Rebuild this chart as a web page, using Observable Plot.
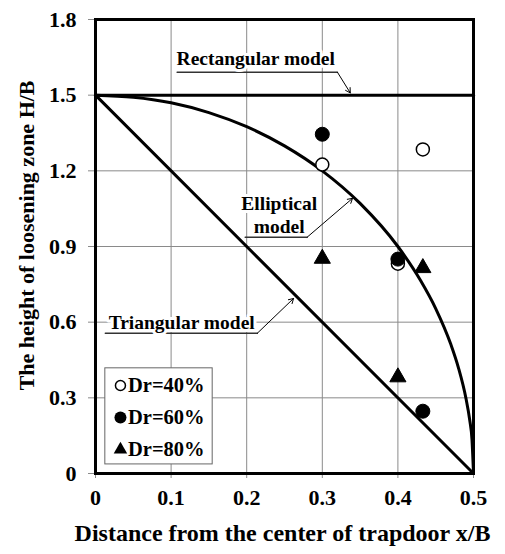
<!DOCTYPE html>
<html><head><meta charset="utf-8">
<script src="https://cdn.jsdelivr.net/npm/d3@7"></script>
<script src="https://cdn.jsdelivr.net/npm/@observablehq/plot@0.6"></script>
<style>
html,body{margin:0;padding:0;background:#fff;}
#chart svg{display:block;}
</style></head><body><div id="chart"></div>
<script>
// ---- data ----
const xTicks = [0, 0.1, 0.2, 0.3, 0.4, 0.5];
const yTicks = [0, 0.3, 0.6, 0.9, 1.2, 1.5, 1.8];
const seriesNames = ["Dr=40%", "Dr=60%", "Dr=80%"];
const testX = [0.3, 0.4, 0.433];
const dr40 = [1.225, 0.832, 1.285];
const dr60 = [1.345, 0.850, 0.247];
const dr80 = [0.852, 0.382, 0.815];
const rectX = [0, 0.5];
const rectY = [1.5, 1.5];
const triX = [0, 0.5];
const triY = [1.5, 0];
const ellX = [0, 0.05, 0.1, 0.15, 0.2, 0.25, 0.3, 0.35, 0.4, 0.43, 0.45, 0.47, 0.48, 0.49, 0.495, 0.498, 0.5];
const ellY = [1.5, 1.492, 1.47, 1.431, 1.375, 1.299, 1.2, 1.071, 0.9, 0.765, 0.654, 0.512, 0.42, 0.298, 0.212, 0.134, 0];
const modelNames = ["Rectangular model", "Elliptical\nmodel", "Triangular model"];
const xTitle = "Distance from the center of trapdoor x/B";
const yTitle = "The height of loosening zone H/B";

// ---- build tables ----
const pts = (xs, ys) => xs.map((x, i) => ({x, y: ys[i]}));
const s40 = pts(testX, dr40), s60 = pts(testX, dr60), s80 = pts(testX, dr80);
const fmt = d => d === 0 ? "0" : d.toFixed(1);
const FONT = "'Liberation Serif','Times New Roman',serif";

// annotation layout (data coordinates)
const notes = [
  {text: modelNames[0], tx: 0.212, ty: 1.650, u1: 0.108, u2: 0.320, uy: 1.591, ax: 0.337, ay: 1.509},
  {text: modelNames[1], tx: 0.243, ty: 1.028, u1: 0.198, u2: 0.280, uy: 0.937, ax: 0.340, ay: 1.091},
  {text: modelNames[2], tx: 0.114, ty: 0.603, u1: 0.013, u2: 0.214, uy: 0.556, ax: 0.262, ay: 0.694}
];
const underlines = notes.flatMap((n, i) => [{i, x: n.u1, y: n.uy}, {i, x: n.u2, y: n.uy}]);

const legendRows = seriesNames.map((name, i) => ({name, i, y: [0.349, 0.222, 0.095][i]}));

const chart = Plot.plot({
  width: 505,
  height: 554,
  marginLeft: 95,
  marginRight: 32,
  marginTop: 19,
  marginBottom: 81,
  style: {fontFamily: FONT, fontWeight: "bold", fontSize: "22px", background: "white", color: "black"},
  x: {domain: [0, 0.5]},
  y: {domain: [0, 1.8]},
  marks: [
    Plot.gridX(xTicks.slice(1, -1), {stroke: "#8a8a8a", strokeOpacity: 1, strokeWidth: 1}),
    Plot.gridY(yTicks.slice(1, -1), {stroke: "#8a8a8a", strokeOpacity: 1, strokeWidth: 1}),
    Plot.axisX(xTicks, {tickSize: 5, tickPadding: 11, tickFormat: fmt, stroke: "#8a8a8a", label: null}),
    Plot.axisY(yTicks, {tickSize: 7, tickPadding: 12, tickFormat: fmt, stroke: "#8a8a8a", label: null}),
    // model lines
    Plot.line(pts(rectX, rectY), {x: "x", y: "y", stroke: "black", strokeWidth: 3}),
    Plot.line(pts(triX, triY), {x: "x", y: "y", stroke: "black", strokeWidth: 3}),
    Plot.line(pts(ellX, ellY), {x: "x", y: "y", stroke: "black", strokeWidth: 3, curve: "monotone-x"}),
    // annotations
    Plot.line(underlines, {x: "x", y: "y", z: "i", stroke: "#333", strokeWidth: 1.5}),
    Plot.arrow(notes, {x1: "u2", y1: "uy", x2: "ax", y2: "ay", stroke: "black", strokeWidth: 1, headLength: 8, bend: 0}),
    Plot.text(notes, {x: "tx", y: "ty", text: "text", fontSize: 19.5, lineHeight: 1.15, fill: "black", stroke: "white", strokeWidth: 6, paintOrder: "stroke"}),
    // data points
    Plot.dot(s40, {x: "x", y: "y", r: 6.5, fill: "white", stroke: "black", strokeWidth: 1.5}),
    Plot.dot(s60, {x: "x", y: "y", r: 7, fill: "black", stroke: "black", strokeWidth: 1}),
    Plot.dot(s80, {x: "x", y: "y", r: 6, symbol: "triangle", fill: "black", stroke: "black", strokeWidth: 1}),
    // legend
    Plot.rect([0], {x1: () => 0.013, x2: () => 0.155, y1: () => 0.036, y2: () => 0.417, fill: "white", stroke: "#666", strokeWidth: 1}),
    Plot.dot(legendRows.filter(d => d.i === 0), {x: () => 0.033, y: "y", r: 5, fill: "white", stroke: "black", strokeWidth: 1.5}),
    Plot.dot(legendRows.filter(d => d.i === 1), {x: () => 0.033, y: "y", r: 6, fill: "black"}),
    Plot.dot(legendRows.filter(d => d.i === 2), {x: () => 0.033, y: "y", r: 5, symbol: "triangle", fill: "black"}),
    Plot.text(legendRows, {x: () => 0.043, y: "y", text: "name", textAnchor: "start", fontSize: 20.5, fill: "black"}),
    // frame
    Plot.frame({stroke: "black", strokeWidth: 3}),
    // axis titles
    Plot.text([xTitle], {frameAnchor: "bottom", textAnchor: "middle", dx: -2, dy: 67, fontSize: 24, fill: "black"}),
    Plot.text([yTitle], {y: () => 0.944, frameAnchor: "left", textAnchor: "middle", dx: -69, rotate: -90, fontSize: 22, fill: "black"})
  ]
});
document.getElementById("chart").appendChild(chart);
</script>
</body></html>
